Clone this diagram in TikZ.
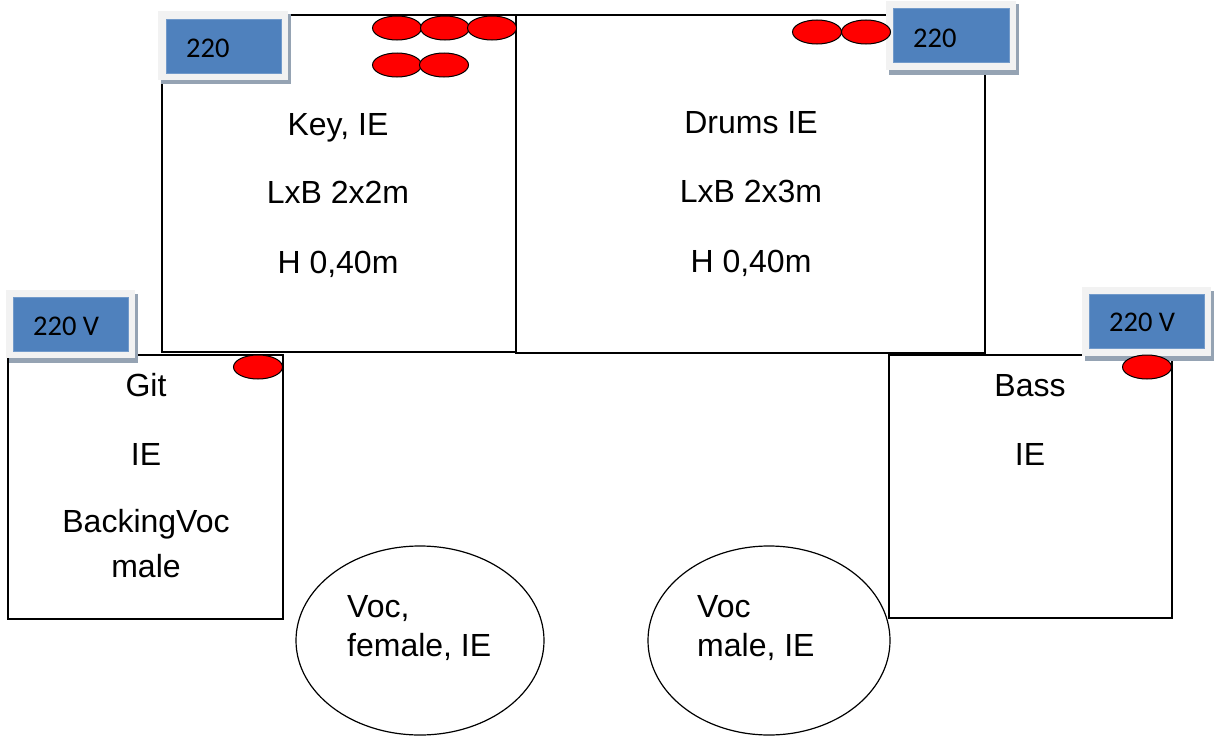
\documentclass[tikz,border=0pt]{standalone}
\usepackage{fontspec}
\setmainfont{Liberation Sans}
\newfontfamily\calfont{Carlito}
\usetikzlibrary{shapes.geometric}
\definecolor{plugblue}{HTML}{4F81BD}
\definecolor{plugframe}{HTML}{F2F2F2}
\definecolor{plugshadow}{HTML}{95A3B3}
\tikzset{
  stagebox/.style={draw=black, line width=1.5pt, fill=white, inner sep=0pt, outer sep=0pt, anchor=north west},
  dot/.style={ellipse, draw=black, line width=1pt, fill=red, minimum width=49pt, minimum height=24pt, inner sep=0pt},
  vocal/.style={ellipse, draw=black, line width=1.2pt, fill=white, inner sep=0pt},
  lbl/.style={anchor=base, font=\fontsize{32}{38}\selectfont, inner sep=0pt},
  lbll/.style={anchor=base west, font=\fontsize{32}{38}\selectfont, inner sep=0pt},
  plugtxt/.style={anchor=base west, font=\calfont\fontsize{28.5}{34}\selectfont, inner sep=0pt},
  plugblue/.style={fill=plugblue, draw=plugblue!80!white, line width=0.6pt, inner sep=0pt, outer sep=0pt, anchor=north west},
}
\begin{document}
\begin{tikzpicture}[x=1pt, y=-1pt]
\useasboundingbox (0,0) rectangle (1219,736);
\fill[white] (0,0) rectangle (1219,736);

% stage risers
\node[stagebox, minimum width=354pt, minimum height=337pt] (key) at (162,15) {};
\node[stagebox, minimum width=469pt, minimum height=338pt] (drums) at (516,15) {};
\node[stagebox, minimum width=275pt, minimum height=264pt] (git) at (8,355) {};
\node[stagebox, minimum width=283pt, minimum height=263pt] (bass) at (889,355) {};

% vocal ellipses
\node[vocal, minimum width=248pt, minimum height=189pt] (vocf) at (420,640.5) {};
\node[vocal, minimum width=242pt, minimum height=189pt] (vocm) at (769,640.5) {};

% power plugs (220 V)
\fill[plugshadow] (161,14) rectangle (291,84);
\fill[plugframe] (158,11) rectangle (288,80);
\node[plugblue, minimum width=115pt, minimum height=54pt] (pkey) at (166,19) {};
\node[plugtxt] (tkey) at (186,57) {220};

\fill[plugshadow] (889,4) rectangle (1019,75);
\fill[plugframe] (886,1) rectangle (1016,70);
\node[plugblue, minimum width=116pt, minimum height=54pt] (pdrums) at (893,8) {};
\node[plugtxt] (tdrums) at (913,47) {220};

\fill[plugshadow] (9,294) rectangle (138,363);
\fill[plugframe] (6,290) rectangle (135,358);
\node[plugblue, minimum width=115pt, minimum height=54pt] (pgit) at (13,297) {};
\node[plugtxt] (tgit) at (33,335) {220 V};

\fill[plugshadow] (1085,291) rectangle (1214,361);
\fill[plugframe] (1082,287) rectangle (1211,356);
\node[plugblue, minimum width=115pt, minimum height=54pt] (pbass) at (1089,294) {};
\node[plugtxt] (tbass) at (1109,331) {220 V};

% red dots (monitors)
\node[dot] (k1) at (397,28) {};
\node[dot] (k2) at (445,28) {};
\node[dot] (k3) at (492,28) {};
\node[dot] (k4) at (397,65) {};
\node[dot] (k5) at (444,65) {};
\node[dot] (d1) at (817,32) {};
\node[dot] (d2) at (866,32) {};
\node[dot] (g1) at (258,367) {};
\node[dot] (b1) at (1147,367) {};

% labels
\node[lbl] (keyA) at (338,135) {Key, IE};
\node[lbl] (keyB) at (338,203) {LxB 2x2m};
\node[lbl] (keyC) at (338,273) {H 0,40m};

\node[lbl] (drA) at (751,133) {Drums IE};
\node[lbl] (drB) at (751,202) {LxB 2x3m};
\node[lbl] (drC) at (751,272) {H 0,40m};

\node[lbl] (gitA) at (146,396) {Git};
\node[lbl] (gitB) at (146,465) {IE};
\node[lbl] (gitC) at (146,532) {BackingVoc};
\node[lbl] (gitD) at (146,577) {male};

\node[lbl] (bassA) at (1030,396) {Bass};
\node[lbl] (bassB) at (1030,465) {IE};

\node[lbll] (vfA) at (347,617) {Voc,};
\node[lbll] (vfB) at (347,656) {female, IE};
\node[lbll] (vmA) at (697,617) {Voc};
\node[lbll] (vmB) at (697,656) {male, IE};
\end{tikzpicture}
\end{document}
